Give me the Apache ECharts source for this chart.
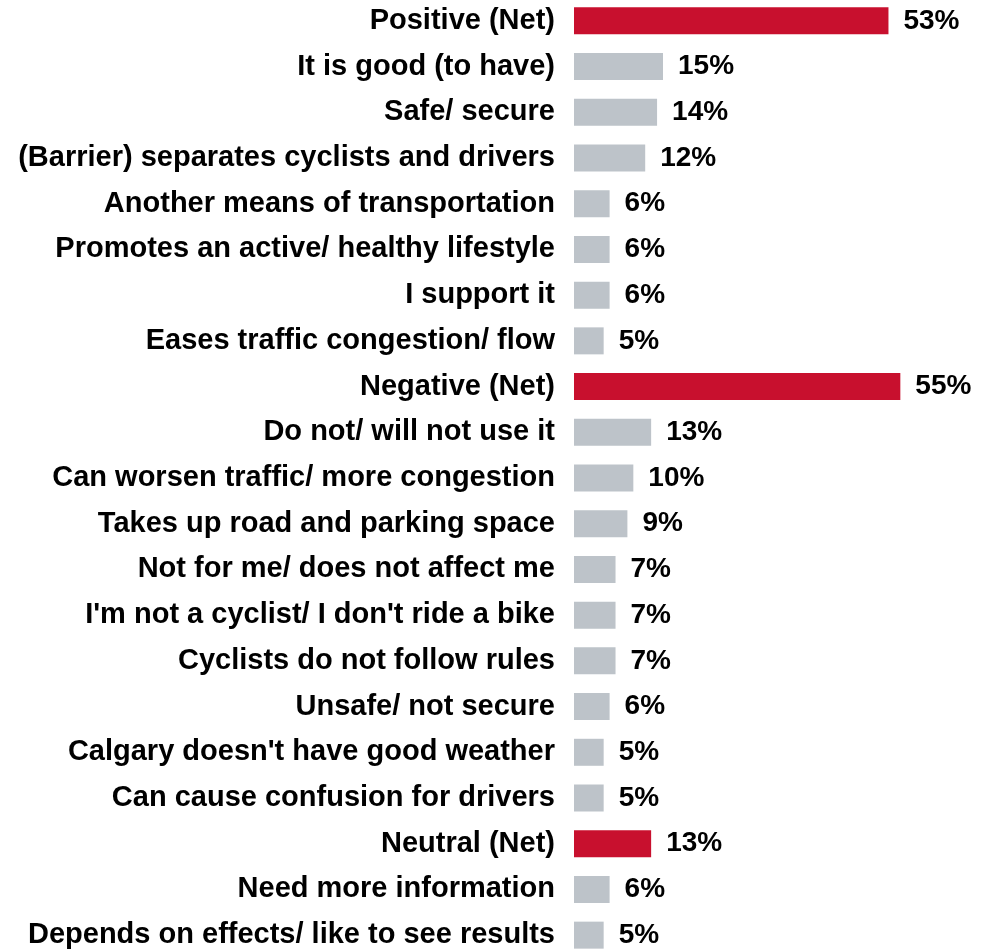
<!DOCTYPE html>
<html><head><meta charset="utf-8">
<script src="https://cdn.jsdelivr.net/npm/echarts@6/dist/echarts.min.js"></script>
<style>html,body{margin:0;padding:0;background:#fff;overflow:hidden}#c{position:absolute;left:0;top:-2px;width:982px;height:960px}</style>
</head><body><div id="c"></div>
<script>
const categories = [
"Positive (Net)","It is good (to have)","Safe/ secure","(Barrier) separates cyclists and drivers",
"Another means of transportation","Promotes an active/ healthy lifestyle","I support it",
"Eases traffic congestion/ flow","Negative (Net)","Do not/ will not use it",
"Can worsen traffic/ more congestion","Takes up road and parking space","Not for me/ does not affect me",
"I'm not a cyclist/ I don't ride a bike","Cyclists do not follow rules","Unsafe/ not secure",
"Calgary doesn't have good weather","Can cause confusion for drivers","Neutral (Net)",
"Need more information","Depends on effects/ like to see results"];
const values = [53,15,14,12,6,6,6,5,55,13,10,9,7,7,7,6,5,5,13,6,5];
const netRows = ["Positive (Net)","Negative (Net)","Neutral (Net)"];
const RED = "#c8102e", GRAY = "#bdc3c9";
const chart = echarts.init(document.getElementById('c'));
chart.setOption({
  animation:false,
  grid:{left:574, top:0, bottom:0, width:356},
  xAxis:{type:'value', min:0, max:60, show:false},
  yAxis:{type:'category', data:categories, inverse:true,
    axisLine:{show:false}, axisTick:{show:false},
    axisLabel:{margin:19, color:'#000', fontFamily:'Liberation Sans, Arial', fontWeight:'bold', fontSize:29}},
  series:[{type:'bar', barWidth:27,
    data: values.map((v,i)=>({value:v, itemStyle:{color: netRows.includes(categories[i]) ? RED : GRAY}})),
    label:{show:true, position:'right', distance:15, formatter:'{c}%', color:'#000',
      fontFamily:'Liberation Sans, Arial', fontWeight:'bold', fontSize:28}}]
});
</script></body></html>
